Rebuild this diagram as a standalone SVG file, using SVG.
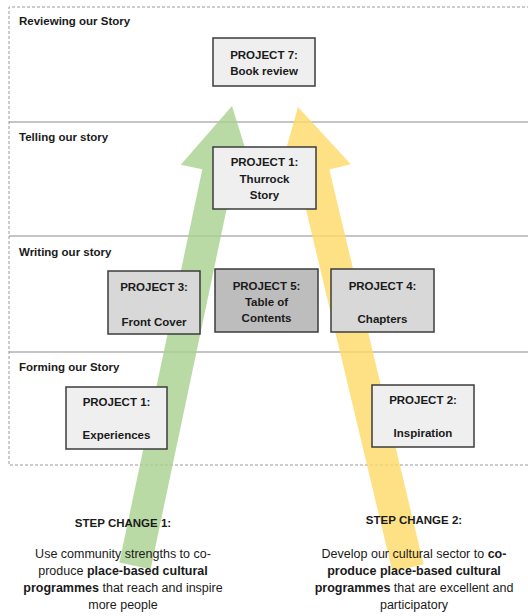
<svg xmlns="http://www.w3.org/2000/svg" width="528" height="616" viewBox="0 0 528 616">
  <style>
    .frame { fill: none; stroke: #9a9a9a; stroke-width: 1; stroke-dasharray: 3 2; }
    .sep { stroke: #8c8c8c; stroke-width: 1.2; }
    .stage { font-family: "Liberation Sans", Arial, sans-serif; font-size: 11.5px; font-weight: bold; fill: #1a1a1a; }
    .box { stroke: #3c3c3c; stroke-width: 1.5; }
    .light { fill: #efefef; }
    .mid { fill: #d8d8d8; }
    .dark { fill: #bdbdbd; }
    .lbl { font-family: "Liberation Sans", Arial, sans-serif; font-size: 11.5px; font-weight: bold; fill: #1a1a1a; text-anchor: middle; }
    .body { font-family: "Liberation Sans", Arial, sans-serif; font-size: 12.5px; fill: #1a1a1a; text-anchor: middle; }
    .b { font-weight: bold; }
    .green { fill: #a9d18e; opacity: 0.8; }
    .yellow { fill: #ffd966; opacity: 0.8; }
  </style>

  <!-- stage frame and dividers -->
  <g id="stages">
    <path class="frame" d="M540 7 H9 V465 H540"/>
    <line class="sep" x1="9" y1="122" x2="528" y2="122"/>
    <line class="sep" x1="9" y1="236" x2="528" y2="236"/>
    <line class="sep" x1="9" y1="352" x2="528" y2="352"/>
    <text class="stage" x="19" y="25">Reviewing our Story</text>
    <text class="stage" x="19" y="141">Telling our story</text>
    <text class="stage" x="19" y="256">Writing our story</text>
    <text class="stage" x="19" y="371">Forming our Story</text>
  </g>

  <!-- step-change arrows -->
  <g id="connectors">
    <polygon class="green" transform="translate(232 106) rotate(11.91)" points="0,0 38,68 16,68 16,470 -16,470 -16,68 -38,68"/>
    <polygon class="yellow" transform="translate(298 107) rotate(-13.42)" points="0,0 38,68 16,68 16,474 -16,474 -16,68 -38,68"/>
  </g>

  <g id="project7">
    <rect class="box light" x="213" y="38" width="102" height="48"/>
    <text class="lbl" x="264" y="59">PROJECT 7:</text>
    <text class="lbl" x="264" y="75">Book review</text>
  </g>

  <g id="project1-story">
    <rect class="box light" x="213" y="147" width="103" height="62"/>
    <text class="lbl" x="264.5" y="166">PROJECT 1:</text>
    <text class="lbl" x="264.5" y="182.5">Thurrock</text>
    <text class="lbl" x="264.5" y="199">Story</text>
  </g>

  <g id="project3">
    <rect class="box mid" x="108" y="271" width="92" height="63"/>
    <text class="lbl" x="154" y="291">PROJECT 3:</text>
    <text class="lbl" x="154" y="326">Front Cover</text>
  </g>

  <g id="project5">
    <rect class="box dark" x="215" y="269" width="103" height="63"/>
    <text class="lbl" x="266.5" y="290">PROJECT 5:</text>
    <text class="lbl" x="266.5" y="306">Table of</text>
    <text class="lbl" x="266.5" y="322">Contents</text>
  </g>

  <g id="project4">
    <rect class="box mid" x="331" y="269" width="103" height="63"/>
    <text class="lbl" x="382.5" y="290">PROJECT 4:</text>
    <text class="lbl" x="382.5" y="323">Chapters</text>
  </g>

  <g id="project1-experiences">
    <rect class="box light" x="66" y="387" width="101" height="62"/>
    <text class="lbl" x="116.5" y="406">PROJECT 1:</text>
    <text class="lbl" x="116.5" y="439">Experiences</text>
  </g>

  <g id="project2">
    <rect class="box light" x="372" y="385" width="102" height="62"/>
    <text class="lbl" x="423" y="404">PROJECT 2:</text>
    <text class="lbl" x="423" y="437">Inspiration</text>
  </g>

  <g id="step-change-1">
    <text class="lbl" x="123" y="527">STEP CHANGE 1:</text>
    <text class="body" x="123" y="558">Use community strengths to co-</text>
    <text class="body" x="123" y="575">produce <tspan class="b">place-based cultural</tspan></text>
    <text class="body" x="123" y="592"><tspan class="b">programmes</tspan> that reach and inspire</text>
    <text class="body" x="123" y="609">more people</text>
  </g>

  <g id="step-change-2">
    <text class="lbl" x="414" y="524">STEP CHANGE 2:</text>
    <text class="body" x="414" y="558">Develop our cultural sector to <tspan class="b">co-</tspan></text>
    <text class="body b" x="414" y="575">produce place-based cultural</text>
    <text class="body" x="414" y="592"><tspan class="b">programmes</tspan> that are excellent and</text>
    <text class="body" x="414" y="609">participatory</text>
  </g>
</svg>
